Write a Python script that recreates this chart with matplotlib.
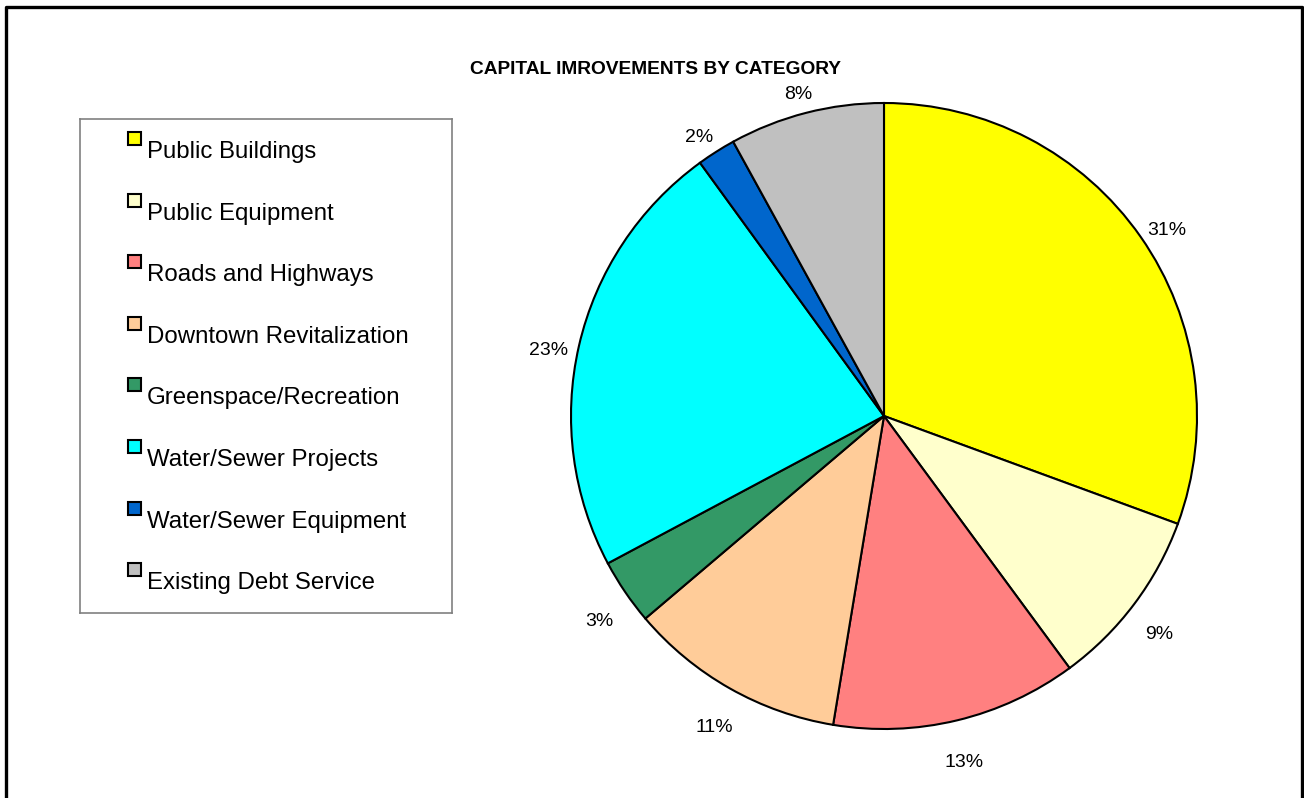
import matplotlib.pyplot as plt
from matplotlib.patches import Rectangle
from matplotlib.lines import Line2D
from matplotlib.transforms import offset_copy

plt.rcParams['font.family'] = ['Liberation Sans', 'DejaVu Sans']

W, H = 1304, 798

categories = [
    "Public Buildings",
    "Public Equipment",
    "Roads and Highways",
    "Downtown Revitalization",
    "Greenspace/Recreation",
    "Water/Sewer Projects",
    "Water/Sewer Equipment",
    "Existing Debt Service",
]
shares = [30.6, 9.3, 12.7, 11.2, 3.4, 22.8, 2.0, 8.0]
colors = ["#FFFF00", "#FFFFCC", "#FF8080", "#FFCC99", "#339966", "#00FFFF", "#0066CC", "#C0C0C0"]

fig = plt.figure(figsize=(W / 100, H / 100), dpi=100)

# outer frame (open at the bottom)
fig.add_artist(Line2D([6 / W, 6 / W, 1302 / W, 1302 / W], [-0.01, 1 - 7 / H, 1 - 7 / H, -0.01],
                      transform=fig.transFigure, color="black", lw=2.4))

fig.text(655 / W, 1 - 70 / H, "CAPITAL IMROVEMENTS BY CATEGORY", ha="center", va="center",
         fontsize=13.8, fontweight="bold")

# pie
cx, cy, r = 884, 416, 313
ax = fig.add_axes([(cx - r) / W, (H - cy - r) / H, 2 * r / W, 2 * r / H])
wedges, _, autotexts = ax.pie(
    shares, colors=colors, startangle=90, counterclock=False,
    autopct="%1.0f%%", pctdistance=1.1,
    wedgeprops=dict(edgecolor="black", linewidth=1.5),
    textprops=dict(fontsize=14),
)
ax.set_xlim(-1, 1)
ax.set_ylim(-1, 1)
ax.set_aspect("auto")
# labels sit a little lower than the default spot, like the original
for t in autotexts:
    t.set_transform(offset_copy(ax.transData, fig=fig, x=0, y=-12, units="dots"))

# legend box
lx0, ly0, lx1, ly1 = 80, 119, 452, 613
lax = fig.add_axes([lx0 / W, (H - ly1) / H, (lx1 - lx0) / W, (ly1 - ly0) / H])
lax.set_xlim(0, lx1 - lx0)
lax.set_ylim(ly1 - ly0, 0)
lax.set_xticks([])
lax.set_yticks([])
for s in lax.spines.values():
    s.set_edgecolor("#808080")
    s.set_linewidth(1.2)

step = 61.6
for i, (name, c) in enumerate(zip(categories, colors)):
    y = 13 + i * step
    lax.add_patch(Rectangle((48, y), 13, 13, facecolor=c, edgecolor="black", lw=1.5))
    lax.text(67, y + 20, name, ha="left", va="center", fontsize=17.3)

fig.savefig("out.png", dpi=100)
